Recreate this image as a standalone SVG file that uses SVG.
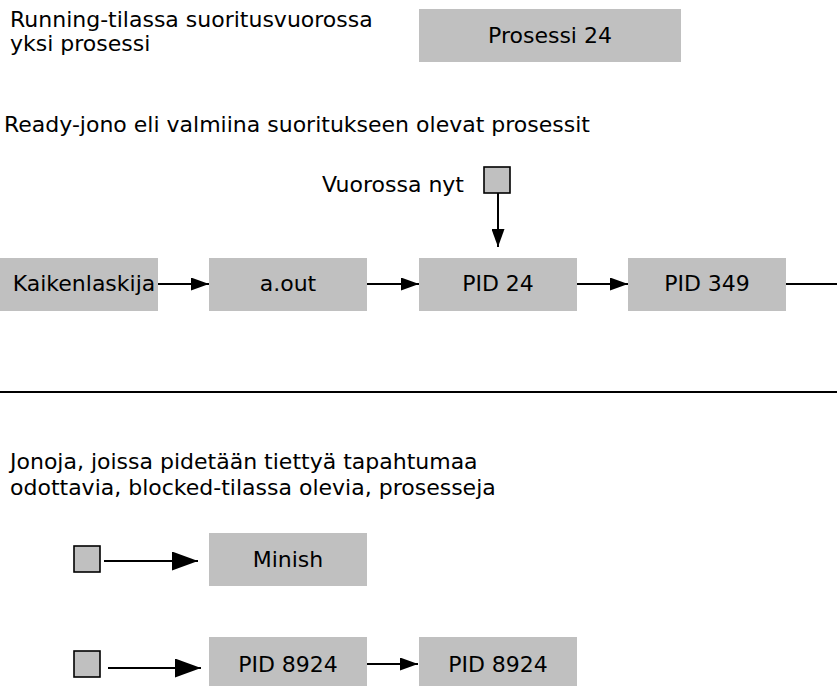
<svg xmlns="http://www.w3.org/2000/svg" width="837" height="686" viewBox="0 0 837 686">
  <style>
    text { font-family: "DejaVu Sans", "Liberation Sans", sans-serif; font-size: 22px; fill: #000; }
    .box { fill: #c0c0c0; stroke: none; }
    .ptr { fill: #c0c0c0; stroke: #000; stroke-width: 1.6; }
    .c { text-anchor: middle; }
    .ln { stroke: #000; stroke-width: 2; fill: none; }
  </style>
  <defs>
    <marker id="ah" markerUnits="userSpaceOnUse" markerWidth="18" markerHeight="13" refX="18" refY="6.5" orient="auto">
      <path d="M0,0 L18,6.5 L0,13 z" fill="#000"/>
    </marker>
    <marker id="ahl" markerUnits="userSpaceOnUse" markerWidth="26" markerHeight="19" refX="26" refY="9.5" orient="auto">
      <path d="M0,0 L26,9.5 L0,19 z" fill="#000"/>
    </marker>
  </defs>

  <g id="labels">
    <text x="10" y="27">Running-tilassa suoritusvuorossa</text>
    <text x="10" y="51">yksi prosessi</text>
    <text x="4" y="132">Ready-jono eli valmiina suoritukseen olevat prosessit</text>
    <text x="322" y="192">Vuorossa nyt</text>
    <text x="10" y="469">Jonoja, joissa pidetään tiettyä tapahtumaa</text>
    <text x="10" y="495">odottavia, blocked-tilassa olevia, prosesseja</text>
  </g>

  <g id="running">
    <rect class="box" x="419" y="9" width="262" height="53"/>
    <text class="c" x="550" y="43">Prosessi 24</text>
  </g>

  <g id="current-ptr"><rect class="ptr" x="484" y="167" width="26" height="26"/></g>
  <g id="kaikenlaskija"><rect class="box" x="0" y="258" width="158" height="53"/><text class="c" x="84" y="291">Kaikenlaskija</text></g>
  <g id="aout"><rect class="box" x="209" y="258" width="158" height="53"/><text class="c" x="288" y="291">a.out</text></g>
  <g id="pid24"><rect class="box" x="419" y="258" width="158" height="53"/><text class="c" x="498" y="291">PID 24</text></g>
  <g id="pid349"><rect class="box" x="628" y="258" width="158" height="53"/><text class="c" x="707" y="291">PID 349</text></g>

  <g id="ptr1"><rect class="ptr" x="74" y="546" width="26" height="26"/></g>
  <g id="minish"><rect class="box" x="209" y="533" width="158" height="53"/><text class="c" x="288" y="567">Minish</text></g>
  <g id="ptr2"><rect class="ptr" x="74" y="651" width="26" height="26"/></g>
  <g id="pid8924a"><rect class="box" x="209" y="637" width="158" height="53"/><text class="c" x="288" y="672">PID 8924</text></g>
  <g id="pid8924b"><rect class="box" x="419" y="637" width="158" height="53"/><text class="c" x="498" y="672">PID 8924</text></g>

  <g id="connectors">
    <line class="ln" x1="498" y1="193" x2="498" y2="247" marker-end="url(#ah)"/>
    <line class="ln" x1="158" y1="284" x2="209" y2="284" marker-end="url(#ah)"/>
    <line class="ln" x1="367" y1="284" x2="419" y2="284" marker-end="url(#ah)"/>
    <line class="ln" x1="577" y1="284" x2="628" y2="284" marker-end="url(#ah)"/>
    <line class="ln" x1="786" y1="284" x2="837" y2="284"/>
    <line class="ln" x1="0" y1="392" x2="837" y2="392"/>
    <line class="ln" x1="104" y1="561" x2="198" y2="561" marker-end="url(#ahl)"/>
    <line class="ln" x1="108" y1="668" x2="201" y2="668" marker-end="url(#ahl)"/>
    <line class="ln" x1="367" y1="664" x2="418" y2="664" marker-end="url(#ah)"/>
  </g>
</svg>
